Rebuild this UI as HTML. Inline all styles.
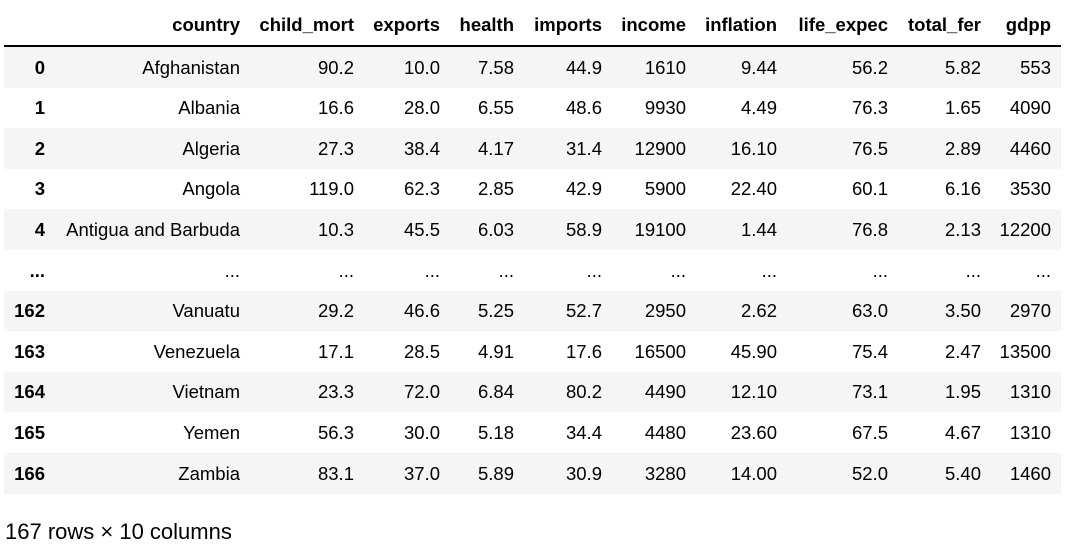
<!DOCTYPE html>
<html><head><meta charset="utf-8"><style>
body{margin:0;width:1070px;height:557px;background:#fff;font-family:"Liberation Sans",Arial,sans-serif;color:#000;overflow:hidden;position:relative}
.c{position:absolute;font-size:18.5px;line-height:20px;white-space:nowrap;text-align:right}
.h{font-weight:bold}
.row{position:absolute;left:4px;width:1057px;height:40.6px}
#hdrline{position:absolute;left:4px;top:45px;width:1057px;height:1.5px;background:#000}
#foot{position:absolute;left:5px;top:520px;font-size:22px;line-height:24px}
</style></head><body>
<div id="hdrline"></div>
<div id="foot">167 rows × 10 columns</div>
<script>
const headers=["","country","child_mort","exports","health","imports","income","inflation","life_expec","total_fer","gdpp"];
const rights=[45,240,354,440,514,602,686,777,888,981,1051];
const rows=[
["0","Afghanistan","90.2","10.0","7.58","44.9","1610","9.44","56.2","5.82","553"],
["1","Albania","16.6","28.0","6.55","48.6","9930","4.49","76.3","1.65","4090"],
["2","Algeria","27.3","38.4","4.17","31.4","12900","16.10","76.5","2.89","4460"],
["3","Angola","119.0","62.3","2.85","42.9","5900","22.40","60.1","6.16","3530"],
["4","Antigua and Barbuda","10.3","45.5","6.03","58.9","19100","1.44","76.8","2.13","12200"],
["...","...","...","...","...","...","...","...","...","...","..."],
["162","Vanuatu","29.2","46.6","5.25","52.7","2950","2.62","63.0","3.50","2970"],
["163","Venezuela","17.1","28.5","4.91","17.6","16500","45.90","75.4","2.47","13500"],
["164","Vietnam","23.3","72.0","6.84","80.2","4490","12.10","73.1","1.95","1310"],
["165","Yemen","56.3","30.0","5.18","34.4","4480","23.60","67.5","4.67","1310"],
["166","Zambia","83.1","37.0","5.89","30.9","3280","14.00","52.0","5.40","1460"]
];
function cell(txt,right,cy,bold){
  const d=document.createElement('div');
  d.className='c'+(bold?' h':'');
  d.textContent=txt;
  d.style.right=(1070-right)+'px';
  d.style.top=(cy-10)+'px';
  
  
  document.body.appendChild(d);
}
headers.forEach((h,j)=>{ if(h) cell(h,rights[j],25,true); });
rows.forEach((r,i)=>{
  const top=47+i*40.6;
  const bg=document.createElement('div');
  bg.className='row';
  bg.style.top=top+'px';
  bg.style.background=(i%2===0)?'#f5f5f5':'#fff';
  
  
  document.body.appendChild(bg);
  r.forEach((v,j)=>cell(v,rights[j],top+20.5,j===0));
});
</script>
</body></html>
